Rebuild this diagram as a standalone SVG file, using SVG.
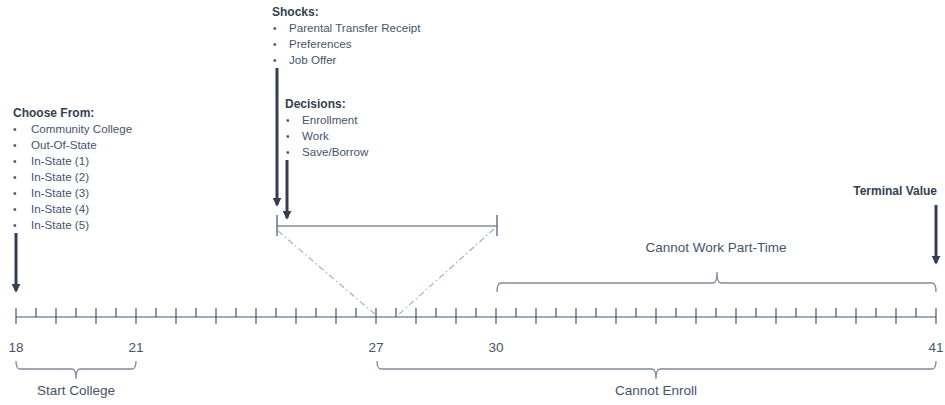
<svg xmlns="http://www.w3.org/2000/svg" width="945" height="405" viewBox="0 0 945 405">
<defs>
<style>
text{font-family:"Liberation Sans",Arial,sans-serif;fill:#44546a;font-size:11.6px}
.b{font-weight:bold;fill:#333f50;font-size:12px}
.dot{font-size:10px}
.lbl{font-size:13.5px}
.ax{stroke:#44546a;stroke-width:1.2;fill:none}
.arr{stroke:#333f50;stroke-width:3;fill:none}
.br{stroke:#7f8a99;stroke-width:1.3;fill:none}
.dd{stroke:#9fb0cf;stroke-width:1.2;stroke-dasharray:6 3 1.5 3;fill:none}
</style>
<marker id="ah" viewBox="0 0 10 10" refX="8" refY="5" markerWidth="3" markerHeight="3" orient="auto" markerUnits="strokeWidth">
<path d="M0,0 L10,5 L0,10 z" fill="#333f50"/>
</marker>
</defs>
<rect width="945" height="405" fill="#ffffff"/>

<g id="timeline">
<line class="ax" x1="16" y1="317" x2="936" y2="317"/>
<path class="ax" d="M16,308V324M56,308V324M96,308V324M136,308V324M176,308V324M216,308V324M256,308V324M296,308V324M336,308V324M376,308V324M416,308V324M456,308V324M496,308V324M536,308V324M576,308V324M616,308V324M656,308V324M696,308V324M736,308V324M776,308V324M816,308V324M856,308V324M896,308V324M936,308V324"/>
<path class="ax" d="M36,308V317M76,308V317M116,308V317M156,308V317M196,308V317M236,308V317M276,308V317M316,308V317M356,308V317M396,308V317M436,308V317M476,308V317M516,308V317M556,308V317M596,308V317M636,308V317M676,308V317M716,308V317M756,308V317M796,308V317M836,308V317M876,308V317M916,308V317"/>
<text class="lbl" x="16" y="352" text-anchor="middle">18</text>
<text class="lbl" x="136" y="352" text-anchor="middle">21</text>
<text class="lbl" x="376" y="352" text-anchor="middle">27</text>
<text class="lbl" x="496" y="352" text-anchor="middle">30</text>
<text class="lbl" x="936" y="352" text-anchor="middle">41</text>
</g>

<g id="choose-from">
<text class="b" x="13" y="117">Choose From:</text>
<text class="dot" x="13" y="133">•</text><text x="31" y="133">Community College</text>
<text class="dot" x="13" y="149">•</text><text x="31" y="149">Out-Of-State</text>
<text class="dot" x="13" y="165">•</text><text x="31" y="165">In-State (1)</text>
<text class="dot" x="13" y="181">•</text><text x="31" y="181">In-State (2)</text>
<text class="dot" x="13" y="197">•</text><text x="31" y="197">In-State (3)</text>
<text class="dot" x="13" y="213">•</text><text x="31" y="213">In-State (4)</text>
<text class="dot" x="13" y="229">•</text><text x="31" y="229">In-State (5)</text>
</g>

<g id="shocks">
<text class="b" x="272" y="16">Shocks:</text>
<text class="dot" x="273" y="32">•</text><text x="289" y="32">Parental Transfer Receipt</text>
<text class="dot" x="273" y="48">•</text><text x="289" y="48">Preferences</text>
<text class="dot" x="273" y="64">•</text><text x="289" y="64">Job Offer</text>
</g>

<g id="decisions">
<text class="b" x="285" y="108">Decisions:</text>
<text class="dot" x="286" y="124">•</text><text x="302" y="124">Enrollment</text>
<text class="dot" x="286" y="140">•</text><text x="302" y="140">Work</text>
<text class="dot" x="286" y="156">•</text><text x="302" y="156">Save/Borrow</text>
</g>

<g id="terminal-value">
<text class="b" x="937" y="195" text-anchor="end">Terminal Value</text>
</g>

<g id="period">
<path class="ax" d="M277,215V236M497,215V236M277,226H497"/>
</g>

<g id="labels">
<text class="lbl" x="716" y="252" text-anchor="middle">Cannot Work Part-Time</text>
<text class="lbl" x="76" y="395" text-anchor="middle">Start College</text>
<text class="lbl" x="656" y="395" text-anchor="middle">Cannot Enroll</text>
</g>

<g id="connectors">
<line class="arr" x1="16" y1="233" x2="16" y2="291" marker-end="url(#ah)"/>
<line class="arr" x1="277" y1="68" x2="277" y2="205" marker-end="url(#ah)"/>
<line class="arr" x1="287" y1="160" x2="287" y2="218" marker-end="url(#ah)"/>
<line class="arr" x1="936" y1="205" x2="936" y2="263" marker-end="url(#ah)"/>
<line class="dd" x1="278" y1="231" x2="377" y2="316"/>
<line class="dd" x1="494" y1="229" x2="397" y2="316"/>
<path class="br" d="M16,361q0,8 4,8H72q4,0 4,10q0,-10 4,-10H132q4,0 4,-8"/>
<path class="br" d="M377,361q0,8 4,8H652q4,0 4,10q0,-10 4,-10H932q4,0 4,-8"/>
<path class="br" d="M497,292q0,-9 4,-9H713q4,0 4,-11q0,11 4,11H932q4,0 4,9"/>
</g>
</svg>
